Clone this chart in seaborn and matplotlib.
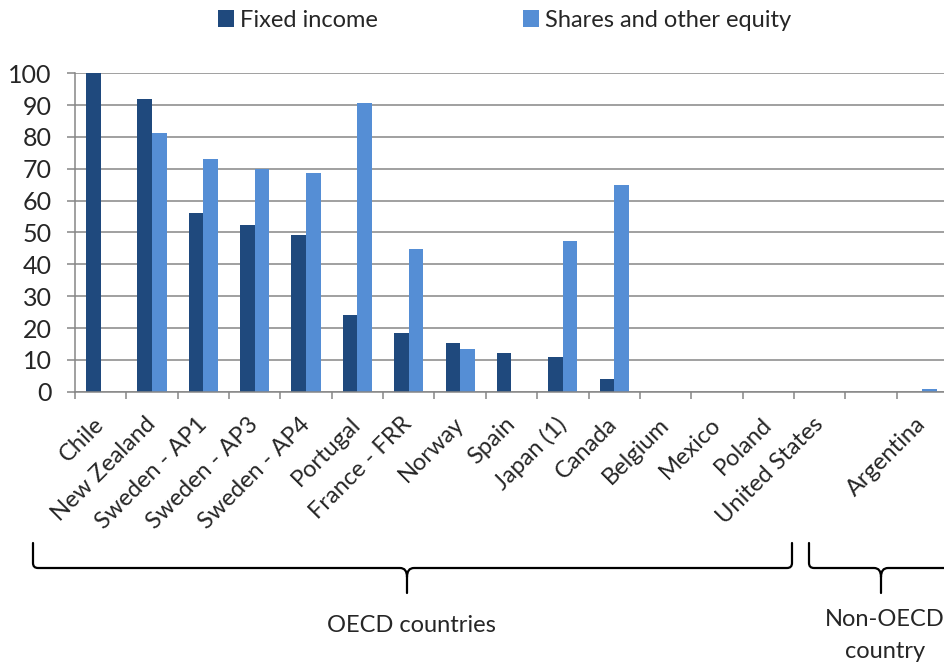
import numpy as np
import pandas as pd
import seaborn as sns
import matplotlib
matplotlib.use("Agg")
import matplotlib.pyplot as plt
from matplotlib.path import Path
from matplotlib.patches import PathPatch

# Asset allocation of public pension reserve funds (% of total portfolio)
countries = ["Chile", "New Zealand", "Sweden - AP1", "Sweden - AP3", "Sweden - AP4",
             "Portugal", "France - FRR", "Norway", "Spain", "Japan (1)", "Canada",
             "Belgium", "Mexico", "Poland", "United States", " ", "Argentina"]
fixed_income = [100.0, 91.8, 56.0, 52.4, 49.2, 24.1, 18.5, 15.4, 12.3, 11.0, 4.1,
                0, 0, 0, 0, 0, 0]
shares_equity = [0, 81.1, 73.1, 69.9, 68.6, 90.6, 44.8, 13.5, 0, 47.3, 64.8,
                 0, 0, 0, 0, 0, 1.0]
series_names = ["Fixed income", "Shares and other equity"]
y_ticks = list(range(0, 101, 10))

DARK = "#1F497D"
LIGHT = "#558ED5"
GRID = "#868686"
FS = 17

df = pd.DataFrame({
    "country": countries * 2,
    "value": fixed_income + shares_equity,
    "asset": [series_names[0]] * len(countries) + [series_names[1]] * len(countries),
})

sns.set_style("white")
plt.rcParams["font.family"] = ["Lato", "DejaVu Sans"]

W, H = 945, 662
fig = plt.figure(figsize=(W / 100, H / 100), dpi=100)
ax = fig.add_axes([75 / W, (H - 391.7) / H, 873 / W, 318.4 / H])

sns.barplot(data=df, x="country", y="value", hue="asset", order=countries,
            hue_order=series_names, palette=[DARK, LIGHT], width=0.57,
            saturation=1, linewidth=0, errorbar=None, ax=ax)

ax.set_xlim(-0.5, len(countries) - 0.5)
ax.set_ylim(0, 100)
ax.set_yticks(y_ticks)
ax.set_xlabel("")
ax.set_ylabel("")

for side in ("top", "right"):
    ax.spines[side].set_visible(False)
for side in ("left", "bottom"):
    ax.spines[side].set_color(GRID)
    ax.spines[side].set_linewidth(1.1)

ax.yaxis.grid(True, color=GRID, linewidth=1.1)
ax.xaxis.grid(False)
ax.set_axisbelow(True)

ax.tick_params(axis="y", length=5.8, width=1.1, color=GRID, pad=11,
               labelsize=FS + 1, left=True)
ax.set_xticks(np.arange(-0.5, len(countries), 1), minor=True)
ax.tick_params(axis="x", which="minor", length=5, width=1.1, color=GRID,
               direction="out", bottom=True)
ax.tick_params(axis="x", which="major", length=0, pad=21, labelsize=FS)
for lbl in ax.get_xticklabels():
    lbl.set_rotation(45)
    lbl.set_ha("right")
    lbl.set_va("center")
    lbl.set_rotation_mode("anchor")

sns.move_legend(ax, "upper left", bbox_to_anchor=(218 / W, 1 - 10 / H),
                bbox_transform=fig.transFigure, ncol=2, frameon=False,
                title=None, fontsize=FS, handlelength=0.68, handleheight=0.72,
                handletextpad=0.25, columnspacing=6.15, borderpad=0,
                borderaxespad=0)

# Group braces below the category labels
ov = fig.add_axes([0, 0, 1, 1])
ov.set_xlim(0, W)
ov.set_ylim(H, 0)
ov.axis("off")
ov.patch.set_alpha(0)


def brace(x0, x1, xm, top=543, line=568, tip=593, r=5):
    verts = [(x0, top), (x0, line - r), (x0, line), (x0 + r, line),
             (xm - 7, line), (xm, line), (xm, line + 9), (xm, tip),
             (xm, line + 9), (xm, line), (xm + 7, line),
             (x1 - r, line), (x1, line), (x1, line - r), (x1, top)]
    codes = [Path.MOVETO, Path.LINETO, Path.CURVE3, Path.CURVE3,
             Path.LINETO, Path.CURVE3, Path.CURVE3, Path.LINETO,
             Path.MOVETO, Path.CURVE3, Path.CURVE3,
             Path.LINETO, Path.CURVE3, Path.CURVE3, Path.LINETO]
    ov.add_patch(PathPatch(Path(verts, codes), fill=False, lw=1.6,
                           edgecolor="black", capstyle="round"))


brace(33, 792, 407)
brace(809, 953, 881)
ov.text(411, 625, "OECD countries", ha="center", va="center", fontsize=FS)
ov.text(885, 619, "Non-OECD", ha="center", va="center", fontsize=FS)
ov.text(885, 652, "country", ha="center", va="center", fontsize=FS)

fig.savefig("out.png", dpi=100)
